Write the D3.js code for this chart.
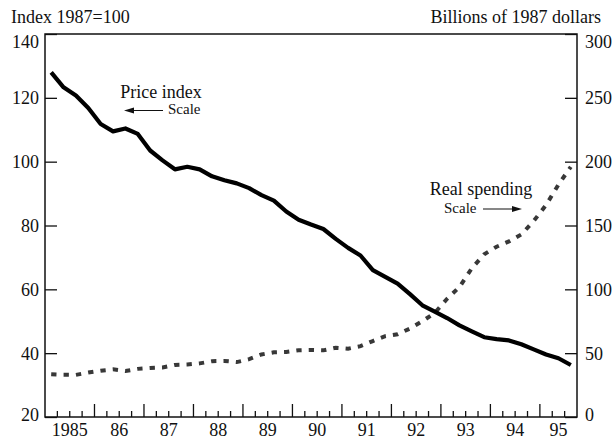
<!DOCTYPE html>
<html>
<head>
<meta charset="utf-8">
<script src="https://cdn.jsdelivr.net/npm/d3@7"></script>
<style>
  body { margin: 0; background: #fff; }
  svg { display: block; }
  text { font-family: "Liberation Serif", "Times New Roman", serif; fill: #111; }
</style>
</head>
<body>
<svg id="chart" width="613" height="440"></svg>
<script>
// quarterly data, 1985:Q1 - 1995:Q3
const startYear = 1985;
const priceIndex = [
  128, 123.3, 120.7, 116.8, 111.8, 109.5, 110.4, 108.7, 103.5, 100.4,
  97.6, 98.4, 97.6, 95.4, 94.2, 93.2, 91.7, 89.5, 87.8, 84.4,
  81.8, 80.3, 78.9, 75.8, 73, 70.6, 66, 63.9, 61.8, 58.5,
  55, 53, 51, 48.7, 46.8, 45, 44.4, 44, 42.8, 41.2,
  39.6, 38.4, 36.3
];
const realSpending = [
  33.5, 33, 33, 34.8, 36.3, 37.3, 36, 37.7, 38.4, 38.8,
  40.8, 41.1, 42, 43.7, 43.9, 43, 45.3, 49, 50.7, 51,
  52.3, 52.5, 52.2, 54.3, 53.5, 55.5, 59.5, 63.3, 64.8, 69.3,
  75, 81.5, 92.6, 101.8, 116.5, 127.5, 133.4, 137.5, 143, 153.5,
  166, 182, 196
];
const leftTicks = [20, 40, 60, 80, 100, 120, 140];
const rightTicks = [0, 50, 100, 150, 200, 250, 300];
const yearLabels = ["1985", "86", "87", "88", "89", "90", "91", "92", "93", "94", "95"];

const FONT = '"Liberation Serif", "Times New Roman", serif';
const svg = d3.select("#chart");
const plotLeft = 45, plotRight = 577, plotTop = 34, plotBottom = 417;
const xEnd = 1995.75;

const x = d3.scaleLinear().domain([startYear, xEnd]).range([plotLeft, plotRight]);
const yL = d3.scaleLinear().domain([20, 140]).range([plotBottom, plotTop]);
const yR = d3.scaleLinear().domain([0, 300]).range([plotBottom, plotTop]);
const qx = i => x(startYear + (i + 0.5) / 4);

// headers
svg.append("text").attr("x", 11).attr("y", 23).attr("font-size", 18).text("Index 1987=100");
svg.append("text").attr("x", 601).attr("y", 23).attr("font-size", 18)
  .attr("text-anchor", "end").text("Billions of 1987 dollars");

// left axis, ticks inward
const gl = svg.append("g").attr("transform", `translate(${plotLeft},0)`)
  .call(d3.axisLeft(yL).tickValues(leftTicks).tickSizeInner(-12).tickSizeOuter(0).tickPadding(6));
// right axis
const gr = svg.append("g").attr("transform", `translate(${plotRight},0)`)
  .call(d3.axisRight(yR).tickValues(rightTicks).tickSizeInner(-12).tickSizeOuter(0).tickPadding(8));
[gl, gr].forEach(g => {
  g.attr("font-family", FONT).attr("font-size", 18);
  g.select(".domain").remove();
  g.selectAll("line").attr("stroke", "#111").attr("stroke-width", 1.3);
  g.selectAll("text").attr("fill", "#111")
    .attr("dy", "0.34em")
    // end labels sit just inside the frame
    .attr("y", (d, i, n) => i === 0 ? -3 : (i === n.length - 1 ? 7 : 0));
});

// bottom quarter ticks
const qTicks = d3.range(startYear * 4 + 1, xEnd * 4).map(q => q / 4);
svg.append("g").selectAll("line").data(qTicks).join("line")
  .attr("x1", d => x(d)).attr("x2", d => x(d))
  .attr("y1", plotBottom)
  .attr("y2", d => Number.isInteger(d) ? plotBottom - 13 : plotBottom - 6)
  .attr("stroke", "#111").attr("stroke-width", 1.3);

svg.append("g").attr("font-family", FONT).selectAll("text").data(yearLabels).join("text")
  .attr("x", (d, i) => x((startYear + i + Math.min(startYear + i + 1, xEnd)) / 2))
  .attr("y", 436).attr("font-size", 18).attr("text-anchor", "middle")
  .text(d => d);

// frame
svg.append("rect").attr("x", plotLeft).attr("y", plotTop)
  .attr("width", plotRight - plotLeft).attr("height", plotBottom - plotTop)
  .attr("fill", "none").attr("stroke", "#111").attr("stroke-width", 1.5);

// series
svg.append("path").datum(realSpending)
  .attr("d", d3.line().x((d, i) => qx(i)).y(d => yR(d)))
  .attr("fill", "none").attr("stroke", "#383838").attr("stroke-width", 4)
  .attr("stroke-dasharray", "5.3,7.1");

svg.append("path").datum(priceIndex)
  .attr("d", d3.line().x((d, i) => qx(i)).y(d => yL(d)))
  .attr("fill", "none").attr("stroke", "#000").attr("stroke-width", 4.2)
  .attr("stroke-linejoin", "round");

// annotations
function arrow(x1, x2, y) {
  const dir = Math.sign(x2 - x1);
  svg.append("line").attr("x1", x1).attr("x2", x2 - dir * 6).attr("y1", y).attr("y2", y)
    .attr("stroke", "#111").attr("stroke-width", 1.2);
  svg.append("path")
    .attr("d", `M${x2},${y} L${x2 - dir * 10},${y - 3} L${x2 - dir * 10},${y + 3} Z`)
    .attr("fill", "#111");
}
svg.append("text").attr("x", 161).attr("y", 98).attr("font-size", 18)
  .attr("text-anchor", "middle").text("Price index");
svg.append("text").attr("x", 168).attr("y", 114).attr("font-size", 15).text("Scale");
arrow(163, 124, 110.5);

svg.append("text").attr("x", 481).attr("y", 195).attr("font-size", 18)
  .attr("text-anchor", "middle").text("Real spending");
svg.append("text").attr("x", 444).attr("y", 213).attr("font-size", 15).text("Scale");
arrow(483, 522, 209);
</script>
</body>
</html>
